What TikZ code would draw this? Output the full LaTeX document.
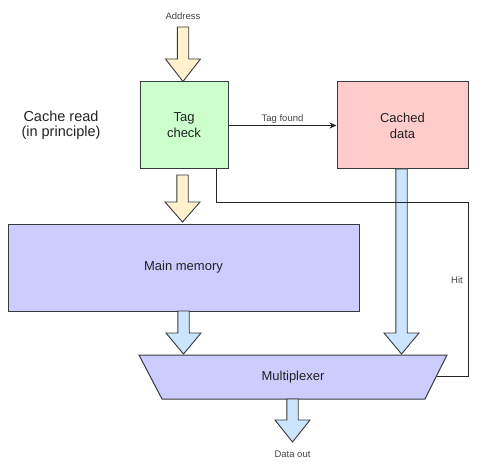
\documentclass[tikz,border=0pt]{standalone}
\usepackage{fontspec}
\setmainfont{Liberation Sans}
\usetikzlibrary{arrows.meta}
\definecolor{edge}{HTML}{36393D}
\definecolor{tagfill}{HTML}{CCFFCC}
\definecolor{cachefill}{HTML}{FFCCCC}
\definecolor{memfill}{HTML}{CCCCFF}
\definecolor{yelfill}{HTML}{FFF2CC}
\definecolor{bluefill}{HTML}{CCE5FF}
\definecolor{txt}{HTML}{222222}
\newcommand{\blkarrow}[5]{% fill, x, ytop, yheadstart, ytip
  \draw[blockarrow, fill=#1] ({#2-5.7},#3) -- ({#2+5.7},#3) -- ({#2+5.7},#4) -- ({#2+17.5},#4)
    -- (#2,#5) -- ({#2-17.5},#4) -- ({#2-5.7},#4) -- cycle;}
\begin{document}
\begin{tikzpicture}[x=1pt,y=-1pt,
  box/.style={draw=edge, line width=1pt, rectangle, inner sep=0pt, text=txt, align=center,
    font=\fontsize{13}{16}\selectfont},
  blockarrow/.style={draw=edge, line width=0.9pt, line join=miter},
  small/.style={font=\fontsize{9.5}{11}\selectfont, text=txt!85, inner sep=1pt},
  wire/.style={draw=black!85, line width=1pt}]
\useasboundingbox (0,0) rectangle (486,470);
% nodes
\node[box, fill=tagfill, minimum width=88pt, minimum height=87pt] (tag) at (184,125.5) {Tag\\check};
\node[box, fill=cachefill, minimum width=131pt, minimum height=87pt] (cached) at (402.5,125.5) {Cached\\data};
\node[box, fill=memfill, minimum width=351pt, minimum height=87pt] (mem) at (183.5,267.5) {Main memory};
% multiplexer
\coordinate (mtl) at (139,355);
\coordinate (mtr) at (447,355);
\coordinate (mbr) at (425,399);
\coordinate (mbl) at (162,399);
\draw[draw=edge, line width=1pt, fill=memfill] (mtl) -- (mtr) -- (mbr) -- (mbl) -- cycle;
\node[text=txt, font=\fontsize{13}{16}\selectfont] (mux) at (293,377.5) {Multiplexer};
\coordinate (muxhit) at (436.5,376.5);
% labels
\node[align=center, text=txt, font=\fontsize{14.5}{14.5}\selectfont] (title) at (61,125.5) {Cache read\\(in principle)};
\node[small] (addr) at (183,16) {Address};
\node[small] (dout) at (292.5,454) {Data out};
% block arrows
\blkarrow{yelfill}{183}{27}{59}{81.5}
\blkarrow{yelfill}{182.5}{175}{202}{222}
\blkarrow{bluefill}{183.5}{311}{333}{354}
\blkarrow{bluefill}{401.5}{169}{333}{354}
\blkarrow{bluefill}{292.5}{399}{420}{442}
% tag found
\draw[wire, -{Stealth[length=7pt,width=6pt]}] (tag.east) -- node[small, above, yshift=1pt] (tf) {Tag found} (cached.west);
% hit line
\coordinate (h1) at (216.7,202);
\coordinate (h2) at (468,202);
\coordinate (h3) at (468,376.5);
\draw[wire] (tag.south -| h1) -- (h1) -- (h2) -- (h3) -- (muxhit);
\node[small, anchor=east] (hit) at (464,280) {Hit};
\end{tikzpicture}
\end{document}
